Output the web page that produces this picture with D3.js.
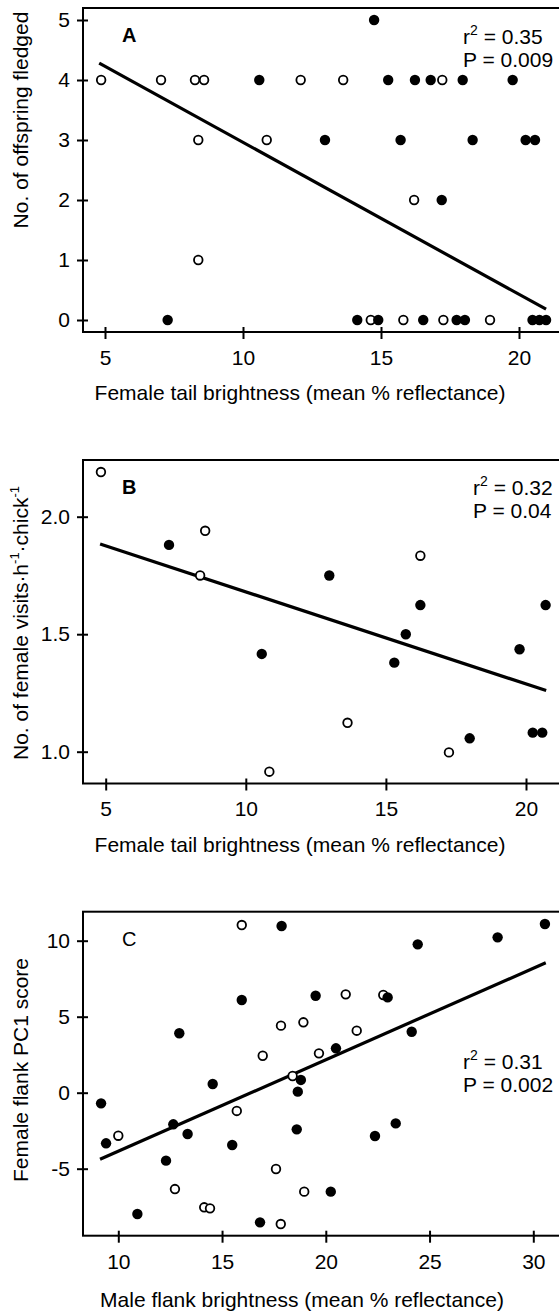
<!DOCTYPE html>
<html>
<head>
<meta charset="utf-8">
<script src="https://cdn.jsdelivr.net/npm/d3@7"></script>
<style>
  body { margin: 0; background: #fff; }
  svg { display: block; font-family: "Liberation Sans", Arial, sans-serif; }
</style>
</head>
<body>
<svg id="chart" width="559" height="1313"></svg>
<script>
// panel A: tail brightness vs offspring fledged
var aOpen = [[4.86,4],[7.03,4],[8.26,4],[8.59,4],[12.09,4],[13.63,4],[17.22,4],[8.38,3],[10.86,3],
  [16.20,2],[8.38,1],[14.63,0],[15.81,0],[17.26,0],[18.95,0]];
var aFilled = [[14.75,5],[10.59,4],[15.26,4],[16.23,4],[16.80,4],[17.96,4],[19.77,4],[12.97,3],[15.71,3],
  [18.32,3],[20.24,3],[20.58,3],[17.20,2],[7.27,0],[14.14,0],[14.90,0],[16.53,0],[17.74,0],[18.04,0],
  [20.49,0],[20.74,0],[20.98,0]];
var aFit = [[4.79,4.28],[20.98,0.18]];
var aXTicks = [5,10,15,20];
var aYTicks = [0,1,2,3,4,5];

// panel B: tail brightness vs female visits
var bOpen = [[4.83,2.19],[8.55,1.94],[8.37,1.75],[10.84,0.915],[16.23,1.834],[13.63,1.123],[17.25,0.997]];
var bFilled = [[7.26,1.88],[10.57,1.416],[12.98,1.75],[16.23,1.624],[15.71,1.50],[15.30,1.379],
  [17.99,1.057],[19.77,1.436],[20.24,1.081],[20.58,1.081],[20.70,1.624]];
var bFit = [[4.80,1.884],[20.72,1.26]];
var bXTicks = [5,10,15,20];
var bYTicks = [1,1.5,2];
var bYLabels = ["1.0","1.5","2.0"];

// panel C: male flank brightness vs female flank PC1
var cOpen = [[15.95,11.03],[17.84,4.41],[18.92,4.63],[16.96,2.43],[19.67,2.59],[18.40,1.10],[15.71,-1.20],
  [10.0,-2.83],[17.60,-5.02],[12.73,-6.34],[18.96,-6.51],[14.14,-7.54],[14.42,-7.61],[17.83,-8.64],
  [20.96,6.47],[22.77,6.43],[21.49,4.08]];
var cFilled = [[17.87,10.97],[15.95,6.10],[19.51,6.38],[12.94,3.91],[14.55,0.57],[18.80,0.84],[18.65,0.07],
  [9.17,-0.70],[12.65,-2.08],[13.34,-2.72],[18.60,-2.41],[9.41,-3.33],[15.49,-3.44],[12.30,-4.47],
  [10.92,-7.98],[16.83,-8.53],[30.56,11.1],[28.28,10.22],[24.43,9.76],[22.98,6.27],[24.14,4.01],
  [20.49,2.92],[23.37,-2.02],[22.37,-2.85],[20.24,-6.51]];
var cFit = [[9.12,-4.38],[30.6,8.55]];
var cXTicks = [10,15,20,25,30];
var cYTicks = [-5,0,5,10];
var cYLabels = ["-5","0","5","10"];

var svg = d3.select("#chart");

var panels = [
  {letter: "A", bold: true, open: aOpen, filled: aFilled, fit: aFit,
   xTicks: aXTicks, yTicks: aYTicks, yLabels: aYTicks.map(String),
   xd: [5,20], xr: [105,519], yd: [0,5], yr: [320,20],
   left: 83, top: 8, bottom: 332, right: 562,
   r2: "0.35", p: "0.009", statX: 463, statY: 44,
   xTitle: "Female tail brightness (mean % reflectance)", xTitleY: 400, xTitleX: 300,
   yTitle: [["No. of offspring fledged"]], yTitleY: 120},
  {letter: "B", bold: true, open: bOpen, filled: bFilled, fit: bFit,
   xTicks: bXTicks, yTicks: bYTicks, yLabels: bYLabels,
   xd: [5,20], xr: [105.7,526], yd: [1,2], yr: [751.7,516.7],
   left: 83, top: 460, bottom: 783.5, right: 562,
   r2: "0.32", p: "0.04", statX: 473, statY: 495,
   xTitle: "Female tail brightness (mean % reflectance)", xTitleY: 852, xTitleX: 300,
   yTitle: [["No. of female visits\u00b7h"],["-1",1],["\u00b7chick"],["-1",1]], yTitleY: 623},
  {letter: "C", bold: false, open: cOpen, filled: cFilled, fit: cFit,
   xTicks: cXTicks, yTicks: cYTicks, yLabels: cYLabels,
   xd: [10,30], xr: [118.3,533.3], yd: [-5,10], yr: [1168.7,940.7],
   left: 83, top: 911.7, bottom: 1235.7, right: 562,
   r2: "0.31", p: "0.002", statX: 463, statY: 1069,
   xTitle: "Male flank brightness (mean % reflectance)", xTitleY: 1307, xTitleX: 302,
   yTitle: [["Female flank PC1 score"]], yTitleY: 1070}
];

panels.forEach(function (p) {
  var x = d3.scaleLinear().domain(p.xd).range(p.xr);
  var y = d3.scaleLinear().domain(p.yd).range(p.yr);
  var g = svg.append("g");

  // frame (right side runs off the picture)
  g.append("rect")
    .attr("x", p.left).attr("y", p.top)
    .attr("width", p.right - p.left).attr("height", p.bottom - p.top)
    .attr("fill", "none").attr("stroke", "#000").attr("stroke-width", 2);

  var yAxis = g.append("g")
    .attr("transform", "translate(" + p.left + ",0)")
    .call(d3.axisLeft(y).tickValues(p.yTicks).tickSize(6).tickPadding(7)
      .tickFormat(function (d, i) { return p.yLabels[i]; }));
  yAxis.select(".domain").remove();
  yAxis.selectAll(".tick line").attr("x1", 5).attr("stroke-width", 2);
  yAxis.selectAll("text").attr("font-size", 21).attr("font-family", null);

  var xAxis = g.append("g")
    .attr("transform", "translate(0," + p.bottom + ")")
    .call(d3.axisBottom(x).tickValues(p.xTicks).tickSize(7).tickPadding(11).tickFormat(d3.format("d")));
  xAxis.select(".domain").remove();
  xAxis.selectAll(".tick line").attr("y1", -5).attr("stroke-width", 2);
  xAxis.selectAll("text").attr("font-size", 21).attr("font-family", null);

  // regression line
  g.append("path")
    .datum(p.fit)
    .attr("d", d3.line().x(function (d) { return x(d[0]); }).y(function (d) { return y(d[1]); }))
    .attr("stroke", "#000").attr("stroke-width", 3.2).attr("fill", "none");

  g.selectAll(".open").data(p.open).enter().append("circle")
    .attr("cx", function (d) { return x(d[0]); })
    .attr("cy", function (d) { return y(d[1]); })
    .attr("r", 4.3).attr("fill", "#fff").attr("stroke", "#000").attr("stroke-width", 1.8);

  g.selectAll(".filled").data(p.filled).enter().append("circle")
    .attr("cx", function (d) { return x(d[0]); })
    .attr("cy", function (d) { return y(d[1]); })
    .attr("r", 5.2).attr("fill", "#000");

  g.append("text")
    .attr("x", 122).attr("y", p.top + 34)
    .attr("font-size", 20).attr("font-weight", p.bold ? "bold" : "normal")
    .text(p.letter);

  // stats
  var s1 = g.append("text").attr("x", p.statX).attr("y", p.statY).attr("font-size", 21);
  s1.append("tspan").text("r");
  s1.append("tspan").attr("font-size", 14).attr("dy", -9).text("2");
  s1.append("tspan").attr("dy", 9).text(" = " + p.r2);
  g.append("text").attr("x", p.statX).attr("y", p.statY + 23).attr("font-size", 21)
    .text("P = " + p.p);

  g.append("text")
    .attr("x", p.xTitleX).attr("y", p.xTitleY)
    .attr("text-anchor", "middle").attr("font-size", 21)
    .text(p.xTitle);

  var yt = g.append("text")
    .attr("transform", "translate(28," + p.yTitleY + ") rotate(-90)")
    .attr("text-anchor", "middle").attr("font-size", 21);
  var shift = 0;
  p.yTitle.forEach(function (part) {
    var t = yt.append("tspan").text(part[0]);
    if (part[1]) { t.attr("font-size", 13).attr("dy", -9 - shift); shift = -9; }
    else if (shift) { t.attr("dy", 9); shift = 0; }
  });
});
</script>
</body>
</html>
